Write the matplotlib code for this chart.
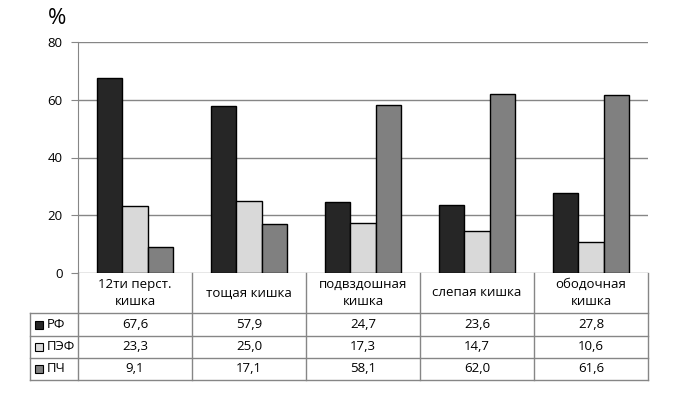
import numpy as np
import matplotlib.pyplot as plt
from matplotlib.lines import Line2D
from matplotlib.patches import Rectangle
from matplotlib.transforms import blended_transform_factory

plt.rcParams['font.family'] = ['Open Sans', 'DejaVu Sans']

categories = ['12ти перст.\nкишка', 'тощая кишка', 'подвздошная\nкишка', 'слепая кишка', 'ободочная\nкишка']
series_names = ['РФ', 'ПЭФ', 'ПЧ']
rf = [67.6, 57.9, 24.7, 23.6, 27.8]
pef = [23.3, 25.0, 17.3, 14.7, 10.6]
pch = [9.1, 17.1, 58.1, 62.0, 61.6]
labels_rf = ['67,6', '57,9', '24,7', '23,6', '27,8']
labels_pef = ['23,3', '25,0', '17,3', '14,7', '10,6']
labels_pch = ['9,1', '17,1', '58,1', '62,0', '61,6']
colors = ['#262626', '#d9d9d9', '#808080']

W, H = 692, 401
fig = plt.figure(figsize=(W / 100, H / 100), dpi=100)
fig.patch.set_facecolor('white')

# plot area in pixels
left, right, top, zero = 78, 648, 42, 273
ax = fig.add_axes([left / W, 1 - zero / H, (right - left) / W, (zero - top) / H])

x = np.arange(len(categories))
bw = 0.22
gray = '#868686'
fs = 9.5
for i, (vals, c) in enumerate(zip([rf, pef, pch], colors)):
    ax.bar(x + (i - 1) * bw, vals, bw, color=c, edgecolor='black', linewidth=1, zorder=3)

ax.set_xlim(-0.5, len(categories) - 0.5)
ax.set_ylim(0, 80)
ax.set_yticks([0, 20, 40, 60, 80])
ax.yaxis.grid(True, color=gray, linewidth=1, zorder=0)
ax.set_xticks([])
for s in ['top', 'right', 'bottom']:
    ax.spines[s].set_visible(False)
ax.spines['left'].set_color(gray)
ax.tick_params(axis='y', colors=gray, length=5, labelcolor='black', labelsize=fs, pad=6)

fig.text(57 / W, 1 - 19 / H, '%', fontsize=16, ha='center', va='center')

# data table below the chart
tr = blended_transform_factory(ax.transData, fig.transFigure)
fy = lambda py: 1 - py / H
rows_y = [273, 313, 336, 358, 380]

for py in rows_y[1:]:
    fig.add_artist(Line2D([30 / W, right / W], [fy(py), fy(py)], color=gray, lw=1))
fig.add_artist(Line2D([right / W, right / W], [fy(273), fy(380)], color=gray, lw=1))
for b in np.arange(-0.5, len(categories) - 0.5, 1.0):
    fig.add_artist(Line2D([b, b], [fy(273), fy(380)], transform=tr, color=gray, lw=1))
fig.add_artist(Line2D([30 / W, 30 / W], [fy(313), fy(380)], color=gray, lw=1))

for i, cat in enumerate(categories):
    fig.text(i, fy(293), cat, transform=tr, ha='center', va='center', fontsize=fs, linespacing=1.45)

for r, (name, labs, c) in enumerate(zip(series_names, [labels_rf, labels_pef, labels_pch], colors)):
    yc = (rows_y[r + 1] + rows_y[r + 2]) / 2
    fig.add_artist(Rectangle((35 / W, fy(yc + 4)), 8 / W, 8 / H, facecolor=c, edgecolor='black', lw=0.8))
    fig.text(47 / W, fy(yc), name, ha='left', va='center', fontsize=fs)
    for i, lab in enumerate(labs):
        fig.text(i, fy(yc), lab, transform=tr, ha='center', va='center', fontsize=fs)

fig.savefig('out.png', dpi=100)
